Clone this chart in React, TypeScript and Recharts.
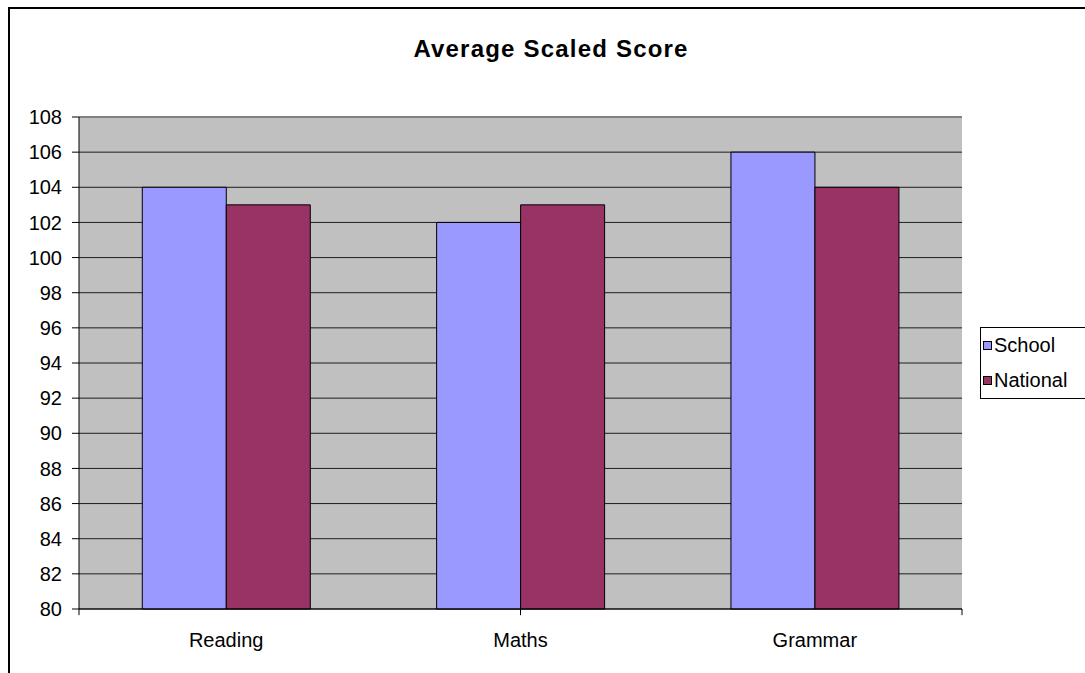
import { BarChart, Bar, XAxis, YAxis, CartesianGrid, ReferenceLine } from 'recharts';

const categories = ['Reading', 'Maths', 'Grammar'];
const schoolScores = [104, 102, 106];
const nationalScores = [103, 103, 104];
const yTicks = [80, 82, 84, 86, 88, 90, 92, 94, 96, 98, 100, 102, 104, 106, 108];
const separators = [0, 1, 2, 3];

const SERIES = [
  { key: 'school', name: 'School', color: '#9999FF' },
  { key: 'national', name: 'National', color: '#993366' },
];

const FONT = '"Liberation Sans", Arial, sans-serif';

const data = categories.map((name, i) => ({
  name,
  school: schoolScores[i],
  national: nationalScores[i],
}));

const LegendBox = () => (
  <div
    style={{
      position: 'absolute',
      left: 980,
      top: 327,
      border: '1px solid #000',
      background: '#fff',
      padding: '0 20px 0 2px',
      fontFamily: FONT,
      fontSize: 20,
      color: '#000',
    }}
  >
    {SERIES.map((s) => (
      <div key={s.key} style={{ display: 'flex', alignItems: 'center', height: 35 }}>
        <span
          style={{
            display: 'inline-block',
            width: 7,
            height: 7,
            background: s.color,
            border: '1px solid #000',
            marginRight: 2,
          }}
        />
        {s.name}
      </div>
    ))}
  </div>
);

export default function App() {
  return (
    <div
      style={{
        position: 'absolute',
        left: 0,
        top: 0,
        width: 1085,
        height: 673,
        overflow: 'hidden',
        background: '#fff',
      }}
    >
      <div
        style={{
          position: 'absolute',
          left: 8,
          top: 7,
          width: 1200,
          height: 800,
          border: '2px solid #000',
        }}
      />
      <div
        style={{
          position: 'absolute',
          left: 0,
          top: 35,
          width: 1102,
          textAlign: 'center',
          fontFamily: FONT,
          fontWeight: 'bold',
          fontSize: 24,
          letterSpacing: 1.2,
          color: '#000',
        }}
      >
        Average Scaled Score
      </div>
      <div style={{ position: 'absolute', left: 0, top: 0 }}>
        <BarChart
          width={1085}
          height={673}
          data={data}
          margin={{ top: 117, right: 123, left: 0, bottom: 24 }}
          barCategoryGap="21.5%"
          barGap={0}
        >
          <CartesianGrid vertical={false} fill="#C0C0C0" stroke="#000" strokeOpacity={0.85} />
          <XAxis xAxisId="sep" type="number" domain={[0, 3]} hide />
          <XAxis
            dataKey="name"
            height={40}
            axisLine={{ stroke: '#000' }}
            tickLine={false}
            tickSize={6}
            tickMargin={18}
            tick={{ fontSize: 20, fill: '#000', fontFamily: FONT }}
          />
          <YAxis
            width={79}
            domain={[80, 108]}
            ticks={yTicks}
            interval={0}
            axisLine={{ stroke: '#000' }}
            tickLine={{ stroke: '#000' }}
            tickSize={7}
            tickMargin={10}
            tick={{ fontSize: 20, fill: '#000', fontFamily: FONT }}
          />
          <YAxis
            yAxisId="border"
            orientation="right"
            width={0}
            domain={[80, 108]}
            axisLine={{ stroke: '#808080', strokeWidth: 2 }}
            tick={false}
            tickLine={false}
          />
          <ReferenceLine y={108} stroke="#808080" strokeWidth={2} />
          {separators.map((v) => (
            <ReferenceLine
              key={v}
              xAxisId="sep"
              segment={[
                { x: v, y: 80 },
                { x: v, y: 79.65 },
              ]}
              stroke="#000"
              ifOverflow="visible"
            />
          ))}
          {SERIES.map((s) => (
            <Bar
              key={s.key}
              dataKey={s.key}
              name={s.name}
              fill={s.color}
              stroke="#000"
              strokeWidth={1}
              isAnimationActive={false}
            />
          ))}
        </BarChart>
      </div>
      <LegendBox />
    </div>
  );
}
